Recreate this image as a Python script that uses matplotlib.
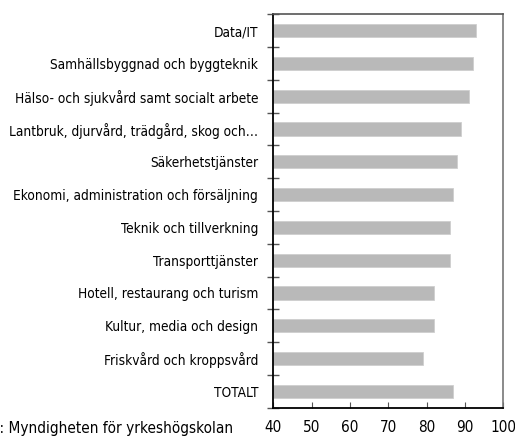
import matplotlib.pyplot as plt
from matplotlib import font_manager as fm
import numpy as np

categories = [
    "Data/IT",
    "Samhällsbyggnad och byggteknik",
    "Hälso- och sjukvård samt socialt arbete",
    "Lantbruk, djurvård, trädgård, skog och…",
    "Säkerhetstjänster",
    "Ekonomi, administration och försäljning",
    "Teknik och tillverkning",
    "Transporttjänster",
    "Hotell, restaurang och turism",
    "Kultur, media och design",
    "Friskvård och kroppsvård",
    "TOTALT",
]
values = [93, 92, 91, 89, 88, 87, 86, 86, 82, 82, 79, 87]
xticks = [40, 50, 60, 70, 80, 90, 100]
source = "Källa: Myndigheten för yrkeshögskolan"

# smal typsnitt om det finns, annars DejaVu i condensed-variant
names = {f.name for f in fm.fontManager.ttflist}
if "Liberation Sans Narrow" in names:
    plt.rcParams["font.family"] = "Liberation Sans Narrow"
else:
    plt.rcParams["font.family"] = "DejaVu Sans"
    plt.rcParams["font.stretch"] = "condensed"

fig = plt.figure(figsize=(5.15, 4.43), dpi=100)
ax = fig.add_axes([0.5307, 0.0797, 0.4466, 0.888])

y = np.arange(len(categories))
ax.barh(y, values, height=0.4, color="#b9b9b9", edgecolor="#cfcfcf", linewidth=0.6)

ax.set_xlim(40, 100)
ax.set_ylim(len(categories) - 0.5, -0.5)
ax.set_xticks(xticks)
ax.set_xticklabels([str(v) for v in xticks], fontsize=11)
ax.set_yticks(y)
ax.set_yticklabels(categories, fontsize=9.8)

# streck mellan kategorierna
ax.set_yticks(np.arange(-0.5, len(categories)), minor=True)
ax.tick_params(axis="y", which="major", length=0, pad=11)
ax.tick_params(axis="y", which="minor", direction="inout", length=8, width=1.0, color="#555555")
ax.tick_params(axis="x", direction="in", length=4, width=0.8, color="#555555", pad=9)

for side in ("left", "bottom"):
    ax.spines[side].set_color("black")
    ax.spines[side].set_linewidth(1.3)
ax.spines["top"].set_color("#555555")
ax.spines["top"].set_linewidth(1.2)
ax.spines["right"].set_color("#777777")
ax.spines["right"].set_linewidth(1.2)

fig.text(233 / 515, 1 - 428 / 443, source, ha="right", va="center", fontsize=11)

fig.savefig("out.png", dpi=100)
